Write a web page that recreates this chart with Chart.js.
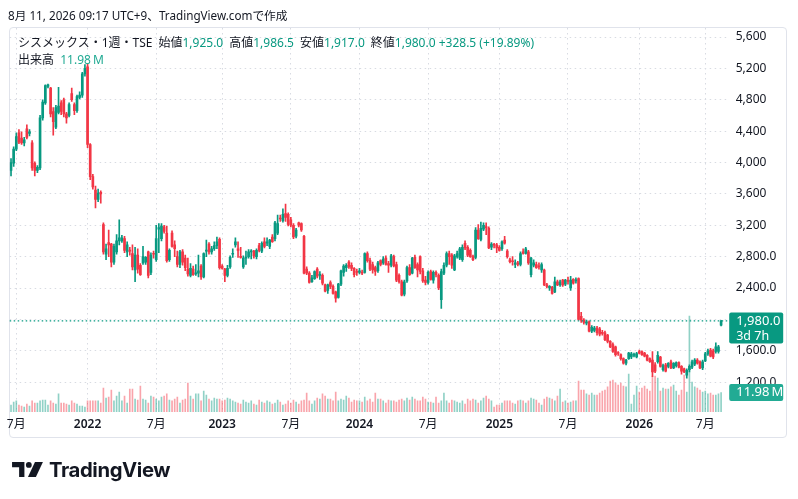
<!DOCTYPE html>
<html lang="ja">
<head>
<meta charset="utf-8">
<title>シスメックス・1週・TSE</title>
<script src="https://cdn.jsdelivr.net/npm/chart.js@4.4.1/dist/chart.umd.min.js"></script>
<style>
  html, body { margin: 0; padding: 0; background: #fff; }
  body { width: 798px; height: 499px; position: relative; overflow: hidden;
         font-family: "Noto Sans", "Noto Sans CJK JP", sans-serif; color: #131722; }
  #chart { position: absolute; left: 0; top: 0; }
  .panel { position: absolute; left: 9px; top: 27px; width: 778px; height: 411px;
           border: 1px solid #e0e3eb; border-radius: 4px; box-sizing: border-box; }
  .hdr { position: absolute; left: 8px; top: 7px; font-size: 11.7px; line-height: 16px; white-space: nowrap; }
  .legend { position: absolute; left: 18px; top: 34px; font-size: 12px; line-height: 17px; white-space: nowrap; }
  .legend span.g { margin-right: 6px; }
  .up { color: #089981; }
  .vol { color: #22ab94; }
  .logo { position: absolute; left: 12px; top: 458px; height: 22px; display: flex; align-items: center; }
  .logo span { font-family: Inter, "Noto Sans", sans-serif; font-weight: 700; font-size: 20.3px;
               letter-spacing: -0.4px; margin-left: 6px; color: #131722; }
</style>
</head>
<body>
<div class="panel"></div>
<canvas id="chart" width="798" height="499"></canvas>
<div class="hdr">8月 11, 2026 09:17 UTC+9、TradingView.comで作成</div>
<div class="legend" id="legend"></div>
<div class="logo">
  <svg width="31" height="15" viewBox="0 0 35 17">
    <path d="M0 0H14V17H8V6H0Z" fill="#131722"/>
    <circle cx="19" cy="3.3" r="3.3" fill="#131722"/>
    <path d="M26 0H35L27 17H18Z" fill="#131722"/>
  </svg>
  <span>TradingView</span>
</div>
<script>
// 週足 OHLC(2021-06-14 の週から 270 本)
const open = [
  3900,3990,4170,4380,4310,4250,4430,4370,4250,3990,
  3900,3930,4570,4760,4970,4950,4650,4450,4640,4760,
  4800,4620,4600,4880,4740,4660,4830,4860,5130,5220,
  4230,3820,3650,3530,3620,3210,2830,2980,2960,2730,
  2860,3000,3000,3030,2860,2880,2840,2630,2820,2690,
  2720,2730,2860,2600,2840,2760,3150,3030,3180,3100,
  2760,3100,2950,2800,2700,2860,2780,2640,2560,2640,
  2580,2590,2680,2540,2870,2960,2860,2900,2940,3020,
  2680,2640,2560,2670,2830,2950,2900,2800,2670,2780,
  2800,2860,2870,2800,2940,2870,2990,2970,2930,3050,
  3030,3100,3290,3260,3350,3340,3270,3200,3060,3230,
  3220,3060,2640,2590,2480,2520,2640,2560,2560,2440,
  2370,2470,2420,2350,2280,2450,2600,2660,2730,2690,
  2650,2610,2600,2600,2600,2840,2750,2700,2660,2620,
  2750,2720,2780,2710,2690,2800,2700,2560,2480,2320,
  2490,2660,2590,2790,2700,2800,2620,2500,2470,2610,
  2500,2600,2560,2250,2590,2690,2840,2820,2630,2800,
  2780,2760,2970,2920,2880,2800,2790,3140,3020,3150,
  3180,3160,2920,2950,2950,2920,2900,3010,2870,2760,
  2740,2700,2720,2700,2860,2840,2860,2570,2690,2700,
  2680,2630,2630,2440,2400,2410,2350,2480,2440,2500,
  2450,2490,2400,2510,2490,2520,2040,1990,1950,1970,
  1850,1860,1890,1880,1830,1830,1800,1720,1680,1650,
  1570,1550,1500,1440,1500,1520,1540,1520,1590,1590,
  1570,1540,1500,1480,1420,1460,1520,1360,1420,1400,
  1460,1380,1410,1450,1400,1370,1290,1360,1390,1430,
  1480,1460,1380,1470,1560,1610,1600,1590,1590,1925
];
const high = [
  4050,4200,4380,4420,4390,4320,4480,4420,4280,4010,
  3960,4600,4800,4990,5000,4960,4700,4730,4960,4790,
  4820,4640,4760,4950,4760,4860,4900,5150,5250,5260,
  4240,3850,3700,3660,3640,3230,2960,3140,2970,2960,
  3080,3270,3070,3060,2990,2920,2950,2920,2900,2710,
  2930,2800,2870,2850,2870,3200,3220,3220,3200,3190,
  2900,3130,3000,2870,2880,2890,2820,2780,2710,2680,
  2700,2820,2700,2850,3010,2980,2930,2990,3050,3040,
  2700,2650,2690,2810,2900,3040,2990,2920,2810,2870,
  2890,2890,2880,2900,2970,2990,3040,3040,3020,3080,
  3250,3330,3330,3410,3470,3360,3300,3220,3160,3240,
  3230,3070,2670,2610,2560,2620,2660,2610,2580,2450,
  2450,2490,2440,2360,2460,2630,2700,2710,2750,2720,
  2660,2640,2650,2630,2850,2860,2780,2730,2680,2740,
  2760,2800,2810,2740,2830,2820,2730,2580,2500,2500,
  2680,2700,2790,2820,2720,2810,2650,2550,2620,2630,
  2620,2620,2580,2640,2720,2860,2870,2840,2830,2870,
  2920,2950,3000,2940,2900,2820,3170,3210,3240,3230,
  3230,3180,2980,2970,2970,2940,3000,3060,2890,2780,
  2800,2760,2740,2860,2900,2920,2880,2790,2760,2730,
  2720,2720,2640,2460,2430,2420,2540,2500,2500,2510,
  2510,2540,2550,2520,2530,2530,2090,2010,1990,1980,
  1920,1910,1910,1900,1860,1850,1810,1730,1700,1660,
  1590,1560,1510,1490,1580,1580,1570,1580,1610,1600,
  1580,1550,1510,1590,1450,1590,1530,1430,1440,1450,
  1480,1450,1460,1460,1410,1380,1370,1420,1480,1500,
  1500,1470,1480,1580,1620,1630,1620,1700,1670,1986.5
];
const low = [
  3830,3950,4150,4240,4230,4210,4300,4340,3900,3830,
  3870,3910,4540,4740,4950,4580,4350,4430,4620,4610,
  4580,4500,4580,4780,4610,4640,4810,4830,5100,4190,
  3780,3660,3420,3500,3480,2830,2760,2800,2670,2700,
  2830,2950,2980,2850,2800,2820,2630,2480,2590,2560,
  2700,2700,2530,2570,2780,2740,2850,3000,3100,2730,
  2740,2920,2800,2670,2660,2690,2620,2550,2540,2560,
  2560,2540,2510,2530,2800,2830,2830,2880,2900,2640,
  2640,2480,2540,2650,2790,2920,2790,2780,2650,2700,
  2780,2770,2780,2770,2860,2850,2910,2940,2900,2980,
  3000,3080,3250,3240,3250,3190,3180,3030,3040,3180,
  3120,2580,2570,2460,2470,2510,2530,2510,2440,2350,
  2330,2390,2320,2220,2270,2430,2550,2610,2650,2620,
  2540,2560,2580,2570,2590,2730,2620,2590,2560,2600,
  2680,2700,2690,2600,2670,2670,2480,2460,2300,2300,
  2470,2560,2580,2650,2540,2580,2470,2440,2450,2500,
  2460,2540,2380,2140,2570,2670,2700,2650,2620,2780,
  2760,2740,2890,2800,2790,2750,2770,3020,3000,3130,
  3080,2900,2890,2910,2850,2870,2880,2960,2780,2720,
  2690,2660,2680,2680,2830,2830,2700,2540,2670,2650,
  2640,2600,2430,2400,2370,2320,2340,2430,2420,2420,
  2430,2450,2370,2450,2460,1990,1960,1940,1930,1840,
  1830,1840,1800,1790,1800,1730,1700,1640,1580,1530,
  1540,1480,1430,1420,1490,1500,1520,1510,1560,1540,
  1520,1470,1450,1270,1320,1440,1390,1340,1330,1380,
  1370,1370,1390,1380,1300,1320,1250,1330,1370,1410,
  1430,1370,1360,1460,1540,1520,1500,1570,1570,1917
];
const close = [
  4000,4170,4330,4260,4250,4290,4320,4390,3930,3900,
  3940,4570,4770,4980,4990,4620,4520,4700,4720,4650,
  4620,4570,4740,4800,4660,4840,4860,5130,5200,4230,
  3820,3690,3530,3610,3600,2860,2900,2950,2730,2930,
  3000,3040,3040,2880,2950,2870,2670,2820,2640,2570,
  2800,2790,2560,2820,2830,3030,3170,3190,3120,2750,
  2880,2930,2900,2700,2860,2730,2660,2580,2650,2570,
  2590,2620,2540,2840,2880,2860,2900,2940,2990,2660,
  2650,2560,2650,2790,2840,2990,2880,2790,2780,2790,
  2860,2870,2810,2880,2880,2970,2930,2990,3010,2990,
  3230,3220,3280,3340,3300,3210,3200,3050,3140,3200,
  3140,2590,2590,2470,2530,2610,2550,2565,2460,2360,
  2440,2420,2330,2270,2450,2620,2680,2690,2670,2650,
  2570,2600,2620,2590,2840,2750,2640,2630,2610,2720,
  2700,2770,2700,2690,2810,2680,2500,2480,2310,2480,
  2660,2570,2780,2660,2630,2610,2490,2470,2600,2510,
  2600,2570,2400,2610,2690,2840,2800,2690,2810,2840,
  2900,2920,2910,2820,2800,2760,3140,3030,3160,3200,
  3170,2910,2960,2945,2910,2880,2990,2970,2800,2735,
  2735,2720,2700,2840,2840,2900,2720,2780,2720,2660,
  2670,2700,2440,2420,2420,2330,2480,2440,2480,2440,
  2500,2485,2500,2460,2490,2000,1990,1960,1970,1850,
  1900,1890,1830,1810,1822,1740,1720,1650,1590,1550,
  1565,1500,1440,1480,1570,1560,1545,1565,1570,1550,
  1530,1480,1460,1330,1340,1540,1400,1410,1340,1440,
  1380,1440,1450,1390,1340,1330,1350,1400,1460,1480,
  1440,1380,1460,1560,1600,1530,1520,1650,1651.5,1980
];
// 出来高(百万株)
const volume = [
  4.3,6.1,6.8,4.3,3.7,3.1,4.9,3.7,6.8,5.5,
  5.5,6.8,7.4,7.4,4.3,6.8,5.5,4.9,11.1,5.5,
  5.5,4.9,4.3,6.8,5.5,4.9,3.7,3.7,3.1,6.8,
  6.8,6.8,6.8,6.8,5.5,14.7,8.6,9.2,13.5,6.8,
  9.8,12.3,6.8,9.8,5.5,14.1,14.1,8.0,7.4,16.0,
  8.0,7.4,5.5,9.8,9.2,8.0,6.8,9.2,9.8,11.1,
  7.4,6.8,8.0,9.2,5.5,7.4,8.0,17.8,9.8,8.0,
  11.1,11.1,6.8,12.9,10.4,8.0,6.8,8.6,8.0,8.0,
  6.8,7.4,8.6,8.0,6.8,6.1,5.5,4.9,7.4,6.1,
  5.5,6.8,4.9,4.3,7.4,6.1,5.5,6.8,6.1,4.9,
  5.5,7.4,6.1,4.3,4.9,6.8,5.5,7.4,6.1,4.9,
  6.8,7.4,11.7,6.8,4.9,6.8,8.6,8.0,11.1,9.8,
  8.0,8.0,6.8,12.3,6.8,8.0,7.4,9.8,8.6,6.1,
  7.4,6.8,6.8,6.1,9.2,6.8,8.0,6.1,11.7,8.0,
  8.0,6.8,5.5,7.4,6.8,6.8,6.1,7.4,8.0,6.8,
  8.6,7.4,9.2,8.0,6.8,6.8,9.2,8.0,6.1,6.1,
  5.5,9.2,5.5,6.8,11.7,6.8,5.5,7.4,6.8,6.1,
  5.5,6.8,4.9,8.0,6.8,8.0,7.4,5.5,6.8,8.6,
  9.8,8.0,6.8,3.1,4.3,4.3,5.5,6.8,6.8,6.8,
  5.5,4.9,6.8,7.4,6.8,5.5,6.8,8.6,8.0,7.4,
  5.5,4.3,8.0,9.2,8.6,8.0,6.8,9.8,14.1,6.1,
  6.8,5.5,6.1,6.8,6.8,19.0,13.5,13.5,11.1,10.4,
  11.7,10.4,10.4,11.7,12.9,13.5,15.4,19.0,19.6,17.8,
  16.6,17.8,16.0,15.4,23.3,4.9,10.4,16.0,12.3,14.7,
  16.0,14.1,12.9,22.1,22.1,20.9,12.9,14.7,14.1,14.1,
  15.4,16.6,12.9,10.4,13.5,22.7,12.3,58.9,18.4,15.4,
  14.7,13.5,12.3,12.9,11.1,11.7,10.4,10.4,11.1,11.98
];

// 目盛り
const timeTickIdx = [2, 29, 55, 80, 106, 132, 158, 185, 211, 238, 263];
const timeTickText = ['7月', '2022', '7月', '2023', '7月', '2024', '7月', '2025', '7月', '2026', '7月'];
const priceTicks = [5600, 5200, 4800, 4400, 4000, 3600, 3200, 2800, 2400, 2000, 1600, 1200];
const priceTickText = ['5,600', '5,200', '4,800', '4,400', '4,000', '3,600', '3,200', '2,800.0', '2,400.0', '', '1,600.0', '1,200.0'];

const UP = '#089981', DOWN = '#f23645';
const UP_VOL = 'rgba(8,153,129,0.45)', DOWN_VOL = 'rgba(242,54,69,0.45)';

// 週の日付ラベル(右端に空き 2 本)
const firstWeek = Date.UTC(2021, 5, 14);
const weekLabels = close.map((_, i) => new Date(firstWeek + i * 7 * 864e5).toISOString().slice(0, 10));
weekLabels.push('', ' ');

const n = close.length;
const last = n - 1;
const isUp = close.map((c, i) => c >= open[i]);
const fmt = v => v.toLocaleString('en-US', { minimumFractionDigits: 1, maximumFractionDigits: 1 });
const volText = volume[last].toFixed(2) + '\u202fM';

// 凡例
const chg = close[last] - close[last - 1];
const pct = chg / close[last - 1] * 100;
document.getElementById('legend').innerHTML =
  '<span class="g">シスメックス・1週・TSE</span>' +
  '<span class="g">始値<span class="up">' + fmt(open[last]) + '</span></span>' +
  '<span class="g">高値<span class="up">' + fmt(high[last]) + '</span></span>' +
  '<span class="g">安値<span class="up">' + fmt(low[last]) + '</span></span>' +
  '<span class="g">終値<span class="up">' + fmt(close[last]) + '</span> <span class="up">+' +
  fmt(chg) + ' (+' + pct.toFixed(2) + '%)</span></span><br>' +
  '<span>出来高&nbsp; <span class="vol">' + volText + '</span></span>';

// 現在値ライン・右端ラベル
const lastPricePlugin = {
  id: 'lastPrice',
  afterDatasetsDraw(chart) {
    const { ctx, chartArea, scales } = chart;
    const y = scales.y.getPixelForValue(close[last]);
    ctx.save();
    ctx.strokeStyle = UP;
    ctx.lineWidth = 1.2;
    ctx.setLineDash([1.5, 2.5]);
    ctx.beginPath();
    ctx.moveTo(chartArea.left, y);
    ctx.lineTo(chartArea.right, y);
    ctx.stroke();
    ctx.restore();
  },
  afterDraw(chart) {
    const { ctx, chartArea, scales } = chart;
    const x = chartArea.right + 1.5;
    const w = 54;
    ctx.save();
    // 価格ラベル
    const y = scales.y.getPixelForValue(close[last]);
    ctx.fillStyle = UP;
    ctx.beginPath();
    ctx.roundRect(x, y - 8.5, w, 31, 2);
    ctx.fill();
    ctx.fillStyle = '#ffffff';
    ctx.textBaseline = 'middle';
    ctx.textAlign = 'left';
    ctx.font = '13px "Noto Sans", sans-serif';
    ctx.fillText(fmt(close[last]), x + 7, y);
    ctx.font = '12.5px "Noto Sans", sans-serif';
    ctx.fillText('3d 7h', x + 7, y + 15);
    // 出来高ラベル
    const yv = scales.yv.getPixelForValue(volume[last]);
    ctx.fillStyle = '#22ab94';
    ctx.beginPath();
    ctx.roundRect(x, yv - 8.5, w, 17, 2);
    ctx.fill();
    ctx.fillStyle = '#ffffff';
    ctx.font = '13px "Noto Sans", sans-serif';
    ctx.fillText(volText, x + 7, yv);
    ctx.restore();
  }
};

Chart.defaults.font.family = '"Noto Sans", "Noto Sans CJK JP", sans-serif';
Chart.defaults.color = '#131722';

new Chart(document.getElementById('chart'), {
  type: 'bar',
  data: {
    labels: weekLabels,
    datasets: [
      {
        label: 'body',
        data: open.map((o, i) => [o, close[i]]),
        backgroundColor: isUp.map(u => u ? UP : DOWN),
        barThickness: 2,
        minBarLength: 1,
        grouped: false,
        order: 1
      },
      {
        label: 'wick',
        data: low.map((l, i) => [l, high[i]]),
        backgroundColor: isUp.map(u => u ? UP : DOWN),
        barThickness: 1,
        grouped: false,
        order: 2
      },
      {
        label: '出来高',
        data: volume,
        yAxisID: 'yv',
        backgroundColor: isUp.map(u => u ? UP_VOL : DOWN_VOL),
        barThickness: 1,
        grouped: false,
        order: 3
      }
    ]
  },
  options: {
    responsive: false,
    animation: false,
    events: [],
    layout: { padding: { left: 9.7, top: 28, right: 0, bottom: 61 } },
    plugins: {
      legend: { display: false },
      tooltip: { enabled: false }
    },
    scales: {
      x: {
        type: 'category',
        offset: true,
        grid: { offset: false, color: '#d8dbe2', lineWidth: 1, drawTicks: false },
        border: { display: false, dash: [1.5, 3.5] },
        afterBuildTicks: scale => { scale.ticks = timeTickIdx.map(v => ({ value: v })); },
        afterFit: scale => { scale.height = 26; },
        ticks: {
          autoSkip: false,
          maxRotation: 0,
          minRotation: 0,
          padding: 5,
          color: '#131722',
          font: ctx => ({ size: 12, weight: /^\d{4}$/.test(timeTickText[ctx.index]) ? '600' : '400' }),
          callback: (v, i) => timeTickText[i]
        }
      },
      y: {
        position: 'right',
        min: 819,
        max: 5715,
        grid: { color: '#d8dbe2', lineWidth: 1, drawTicks: false },
        border: { display: false, dash: [1.5, 3.5] },
        afterBuildTicks: scale => { scale.ticks = priceTicks.map(v => ({ value: v })); },
        afterFit: scale => { scale.width = 70.3; },
        ticks: {
          padding: 8,
          color: '#131722',
          font: { size: 12 },
          callback: (v, i) => priceTickText[i]
        }
      },
      yv: {
        display: false,
        min: 0,
        max: 236
      }
    }
  },
  plugins: [lastPricePlugin]
});
</script>
</body>
</html>
